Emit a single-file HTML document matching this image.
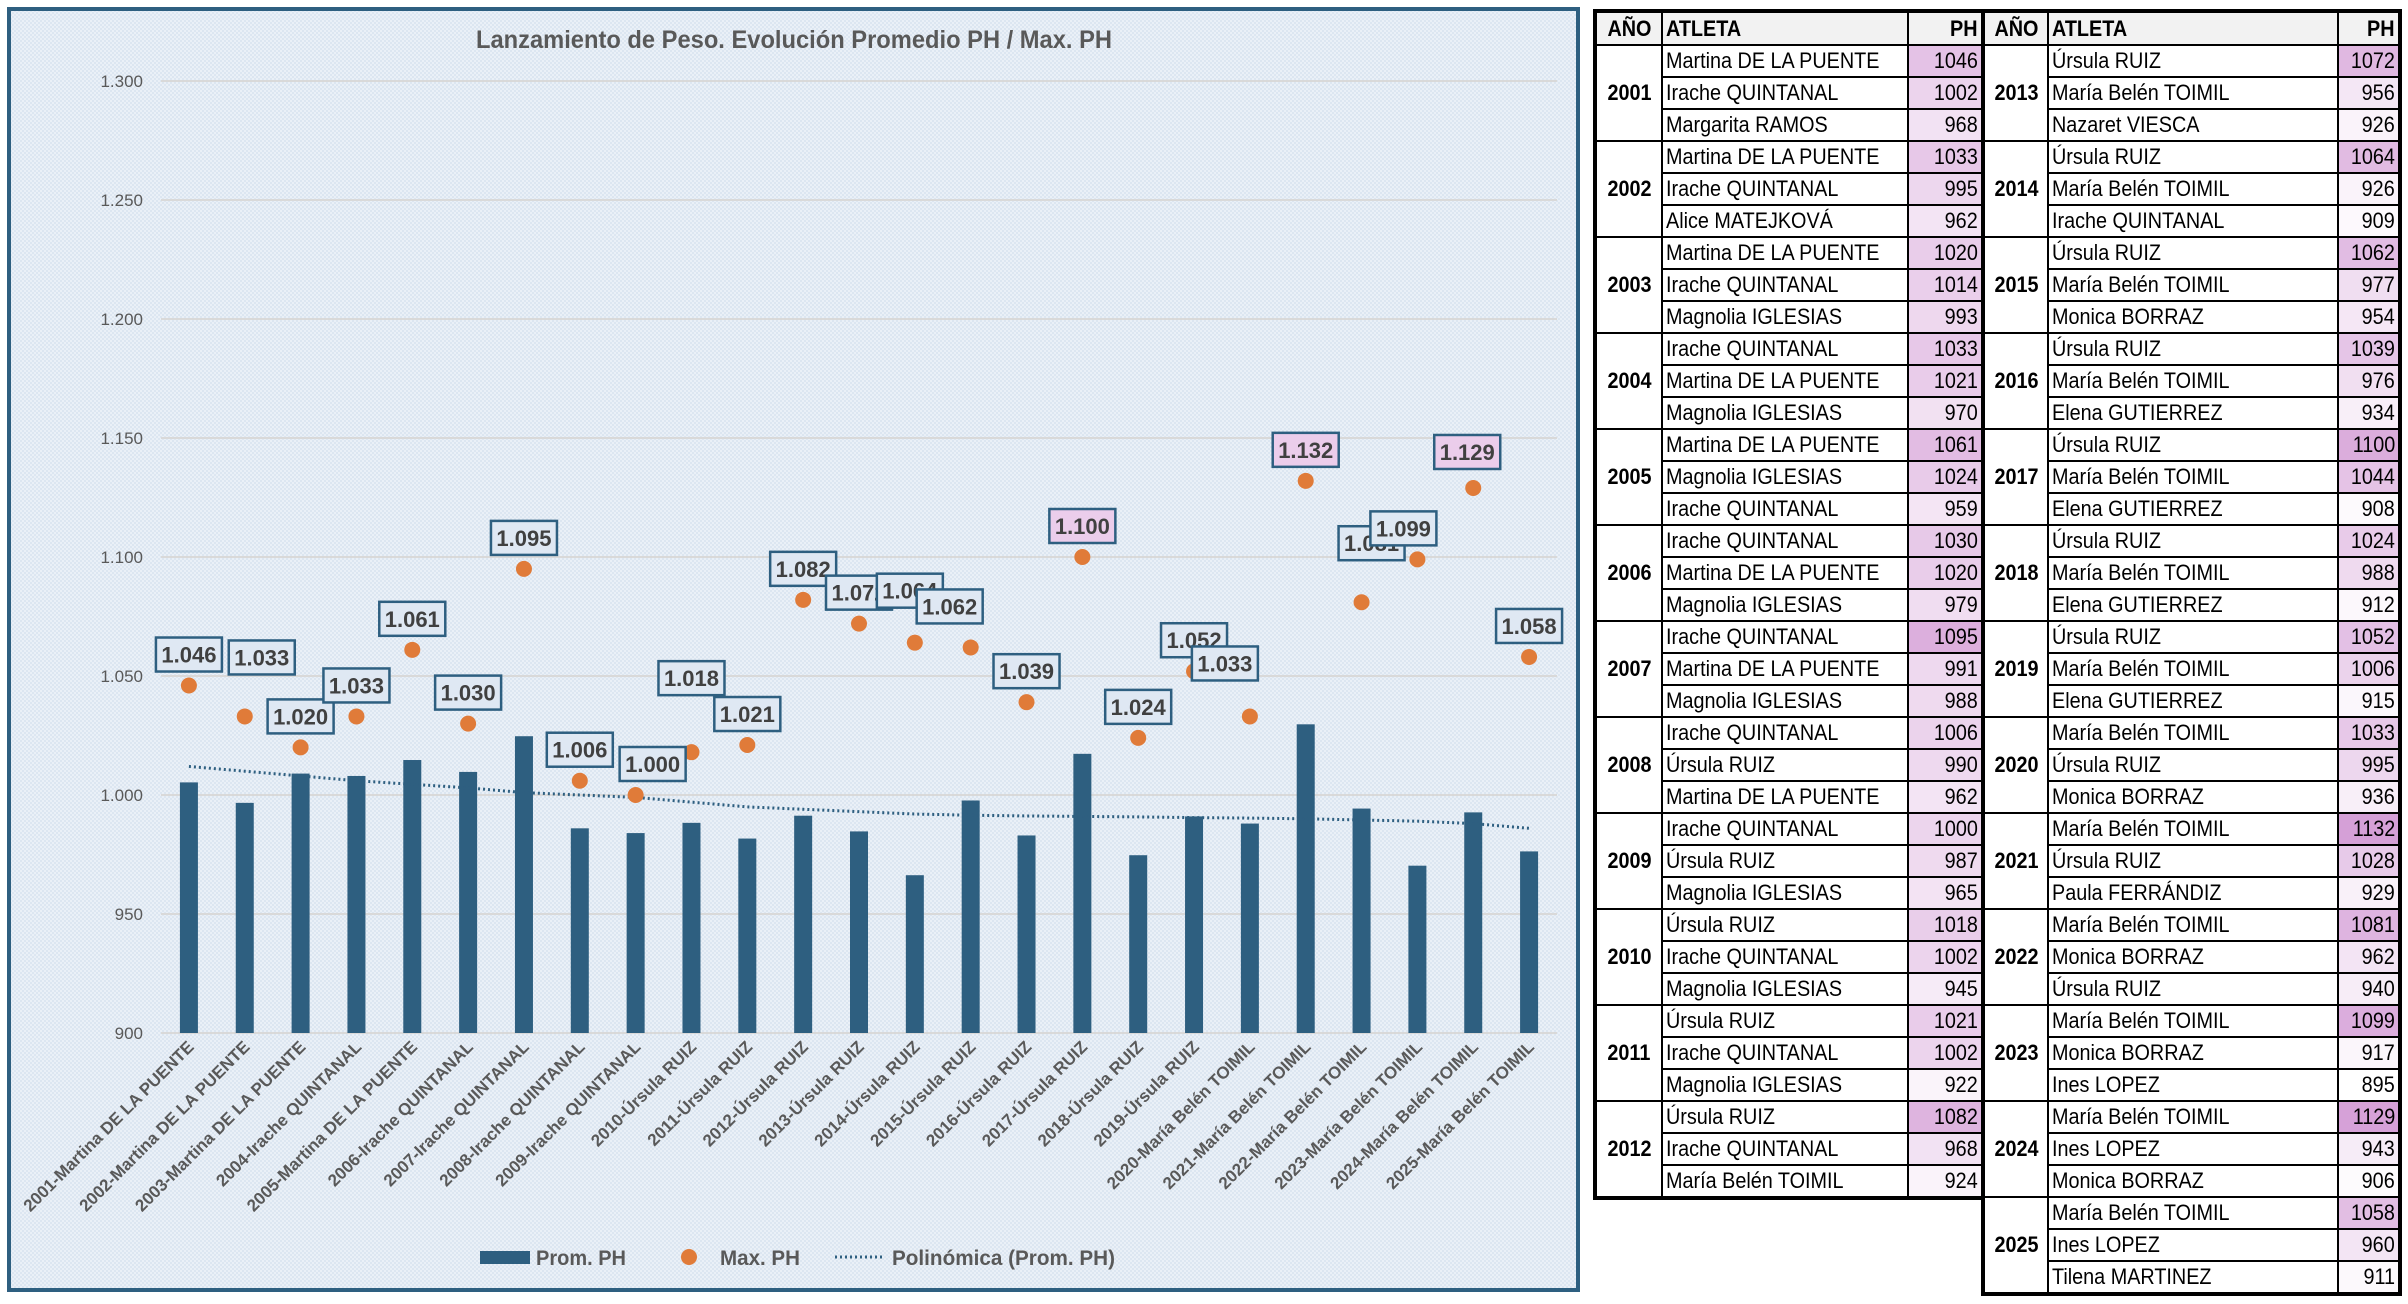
<!DOCTYPE html>
<html><head><meta charset="utf-8">
<style>
html,body{margin:0;padding:0;width:2408px;height:1304px;background:#fff;overflow:hidden;font-family:"Liberation Sans",sans-serif}
#chart{position:absolute;left:0;top:0}
table{position:absolute;top:9px;border-collapse:collapse;border:4px solid #000;font-size:22px;color:#000}
td,th{border:2px solid #000;height:30px;padding:0 3px;white-space:nowrap;overflow:hidden;line-height:28px}
th{background:#f2f2f2;font-weight:bold;height:31px}
.n{display:inline-block;transform:scaleX(.9);transform-origin:left center}
.r{text-align:right}
.r .n{transform-origin:right center}
.y{font-weight:bold;text-align:center}
.y .n{transform-origin:center}
</style></head><body>
<svg id="chart" width="1590" height="1304" xmlns="http://www.w3.org/2000/svg">
<defs><pattern id="pat" width="4" height="4" patternUnits="userSpaceOnUse"><rect width="4" height="4" fill="#eaf0f7"/><rect width="2" height="2" fill="#dce6f1"/><rect x="2" y="2" width="2" height="2" fill="#dce6f1"/></pattern></defs>
<rect x="9" y="9" width="1569" height="1281" fill="url(#pat)" stroke="#2e5f80" stroke-width="4"/>
<text x="794" y="48" text-anchor="middle" font-size="25" font-weight="bold" fill="#595959" textLength="636" lengthAdjust="spacingAndGlyphs">Lanzamiento de Peso. Evolución Promedio PH / Max. PH</text>
<g id="grid"></g><g id="bars"></g><g id="trend"></g><g id="dots"></g><g id="labels"></g><g id="xlabels"></g>
<g>
<rect x="480" y="1251" width="50" height="13" fill="#2e5f80"/>
<text x="536" y="1265" font-size="21" font-weight="bold" fill="#595959" textLength="90" lengthAdjust="spacingAndGlyphs">Prom. PH</text>
<circle cx="689" cy="1257" r="8" fill="#e07b39"/>
<text x="720" y="1265" font-size="21" font-weight="bold" fill="#595959" textLength="80" lengthAdjust="spacingAndGlyphs">Max. PH</text>
<line x1="835" y1="1257" x2="885" y2="1257" stroke="#2e5f80" stroke-width="3" stroke-dasharray="2 3"/>
<text x="892" y="1265" font-size="21" font-weight="bold" fill="#595959" textLength="223" lengthAdjust="spacingAndGlyphs">Polinómica (Prom. PH)</text>
</g>
</svg>
<table id="t1" style="left:1593px"></table>
<table id="t2" style="left:1981px"></table>
<script>
const years=[2001,2002,2003,2004,2005,2006,2007,2008,2009,2010,2011,2012,2013,2014,2015,2016,2017,2018,2019,2020,2021,2022,2023,2024,2025];
const leaders=["Martina DE LA PUENTE","Martina DE LA PUENTE","Martina DE LA PUENTE","Irache QUINTANAL","Martina DE LA PUENTE","Irache QUINTANAL","Irache QUINTANAL","Irache QUINTANAL","Irache QUINTANAL","Úrsula RUIZ","Úrsula RUIZ","Úrsula RUIZ","Úrsula RUIZ","Úrsula RUIZ","Úrsula RUIZ","Úrsula RUIZ","Úrsula RUIZ","Úrsula RUIZ","Úrsula RUIZ","María Belén TOIMIL","María Belén TOIMIL","María Belén TOIMIL","María Belén TOIMIL","María Belén TOIMIL","María Belén TOIMIL"];
const promPH=[1005.3,996.7,1009,1008,1014.7,1009.7,1024.7,986,984,988.3,981.7,991.3,984.7,966.3,997.7,983,1017.3,974.7,991,988,1029.7,994.3,970.3,992.7,976.3];
const maxPH=[1046,1033,1020,1033,1061,1030,1095,1006,1000,1018,1021,1082,1072,1064,1062,1039,1100,1024,1052,1033,1132,1081,1099,1129,1058];
const trendPH=[1012,1010,1008,1006,1004.5,1003,1001,1000,999,997,995,994,993,992,991.5,991.2,991,990.8,990.5,990.3,990,989.5,989,988,986];
const yTicks=[900,950,1000,1050,1100,1150,1200,1250,1300];
const athletes=[
["Martina DE LA PUENTE",1046,"Irache QUINTANAL",1002,"Margarita RAMOS",968],
["Martina DE LA PUENTE",1033,"Irache QUINTANAL",995,"Alice MATEJKOVÁ",962],
["Martina DE LA PUENTE",1020,"Irache QUINTANAL",1014,"Magnolia IGLESIAS",993],
["Irache QUINTANAL",1033,"Martina DE LA PUENTE",1021,"Magnolia IGLESIAS",970],
["Martina DE LA PUENTE",1061,"Magnolia IGLESIAS",1024,"Irache QUINTANAL",959],
["Irache QUINTANAL",1030,"Martina DE LA PUENTE",1020,"Magnolia IGLESIAS",979],
["Irache QUINTANAL",1095,"Martina DE LA PUENTE",991,"Magnolia IGLESIAS",988],
["Irache QUINTANAL",1006,"Úrsula RUIZ",990,"Martina DE LA PUENTE",962],
["Irache QUINTANAL",1000,"Úrsula RUIZ",987,"Magnolia IGLESIAS",965],
["Úrsula RUIZ",1018,"Irache QUINTANAL",1002,"Magnolia IGLESIAS",945],
["Úrsula RUIZ",1021,"Irache QUINTANAL",1002,"Magnolia IGLESIAS",922],
["Úrsula RUIZ",1082,"Irache QUINTANAL",968,"María Belén TOIMIL",924],
["Úrsula RUIZ",1072,"María Belén TOIMIL",956,"Nazaret VIESCA",926],
["Úrsula RUIZ",1064,"María Belén TOIMIL",926,"Irache QUINTANAL",909],
["Úrsula RUIZ",1062,"María Belén TOIMIL",977,"Monica BORRAZ",954],
["Úrsula RUIZ",1039,"María Belén TOIMIL",976,"Elena GUTIERREZ",934],
["Úrsula RUIZ",1100,"María Belén TOIMIL",1044,"Elena GUTIERREZ",908],
["Úrsula RUIZ",1024,"María Belén TOIMIL",988,"Elena GUTIERREZ",912],
["Úrsula RUIZ",1052,"María Belén TOIMIL",1006,"Elena GUTIERREZ",915],
["María Belén TOIMIL",1033,"Úrsula RUIZ",995,"Monica BORRAZ",936],
["María Belén TOIMIL",1132,"Úrsula RUIZ",1028,"Paula FERRÁNDIZ",929],
["María Belén TOIMIL",1081,"Monica BORRAZ",962,"Úrsula RUIZ",940],
["María Belén TOIMIL",1099,"Monica BORRAZ",917,"Ines LOPEZ",895],
["María Belén TOIMIL",1129,"Ines LOPEZ",943,"Monica BORRAZ",906],
["María Belén TOIMIL",1058,"Ines LOPEZ",960,"Tilena MARTINEZ",911]];

const NS="http://www.w3.org/2000/svg";
const X0=161,X1=1557,Y900=1033,PXU=476/200;
const band=(X1-X0)/years.length;
const xs=i=>X0+band*(i+0.5);
const ys=v=>Y900-(v-900)*PXU;
function mk(tag,attrs,parent){const e=document.createElementNS(NS,tag);for(const k in attrs)e.setAttribute(k,attrs[k]);parent.appendChild(e);return e;}
const fmt=v=>{const s=String(Math.round(v));return s.length>3?s.slice(0,-3)+"."+s.slice(-3):s;};
const G=id=>document.getElementById(id);
yTicks.forEach(t=>{
 const l=mk('line',{x1:X0,x2:X1,y1:ys(t),y2:ys(t),stroke:'#d9d9d9','stroke-width':2},G('grid'));
 
 
 const tx=mk('text',{x:143,y:ys(t)+6,'text-anchor':'end','font-size':17,fill:'#595959'},G('grid'));
 tx.textContent=fmt(t);
 
 
});
promPH.forEach((v,i)=>{
 const b=mk('rect',{x:xs(i)-9,y:ys(v),width:18,height:Y900-ys(v),fill:'#2e5f80'},G('bars'));
 
 
});
const tp=mk('polyline',{points:trendPH.map((v,i)=>xs(i)+','+ys(v)).join(' '),fill:'none',stroke:'#2e5f80','stroke-width':3,'stroke-dasharray':'2 3'},G('trend'));


const ldx=[0,17,0,0,0,0,0,0,17,0,0,0,0,-5,-21,0,0,0,0,-25,0,10,-14,-6,0];
const ldy=[0,-28,0,0,0,0,0,0,0,-43,0,0,0,-21,-10,0,0,0,0,-22,0,-28,0,-5,0];
maxPH.forEach((v,i)=>{
 const c=mk('circle',{cx:xs(i),cy:ys(v),r:8,fill:'#e07b39'},G('dots'));
 
 
});
maxPH.forEach((v,i)=>{
 const cx=xs(i)+ldx[i],cy=ys(v)-31+ldy[i];
 const g=mk('g',{},G('labels'));
 
 
 mk('rect',{x:cx-33,y:cy-17,width:66,height:34,fill:v>=1100?'#ebcdeb':'#dfe8f3',stroke:'#2e5f80','stroke-width':2.5},g);
 const t=mk('text',{x:cx,y:cy+8,'text-anchor':'middle','font-size':22,'font-weight':'bold',fill:'#404040'},g);
 t.textContent=fmt(v);
});
years.forEach((y,i)=>{
 const t=mk('text',{transform:`translate(${xs(i)+6},1048) rotate(-45)`,'text-anchor':'end','font-size':17,'font-weight':'bold',fill:'#595959'},G('xlabels'));
 t.textContent=y+'-'+leaders[i];
 
 
});
function col(v){const t=Math.max(0,Math.min(1,(v-895)/(1132-895)));return `rgb(${Math.round(255-42*t)},${Math.round(255-95*t)},${Math.round(255-40*t)})`;}
function build(tbl,from,to,w){
 const h=document.createElement('tr');
 
 
 h.innerHTML=`<th class="y" style="width:${w[0]-8}px"><span class="n">AÑO</span></th><th style="text-align:left;width:${w[1]-8}px"><span class="n">ATLETA</span></th><th class="r" style="width:${w[2]-8}px"><span class="n">PH</span></th>`;
 tbl.appendChild(h);
 for(let k=from;k<to;k++){
  const a=athletes[k];
  for(let j=0;j<3;j++){
   const tr=document.createElement('tr');
   
   
   let s='';
   if(j==0)s+=`<td class="y" rowspan="3"><span class="n">${years[k]}</span></td>`;
   s+=`<td><span class="n">${a[j*2]}</span></td><td class="r" style="background:${col(a[j*2+1])}"><span class="n">${a[j*2+1]}</span></td>`;
   tr.innerHTML=s;
   tbl.appendChild(tr);
  }
 }
}
build(G('t1'),0,12,[66,246,74]);
build(G('t2'),12,25,[64,290,61]);
</script>
</body></html>
